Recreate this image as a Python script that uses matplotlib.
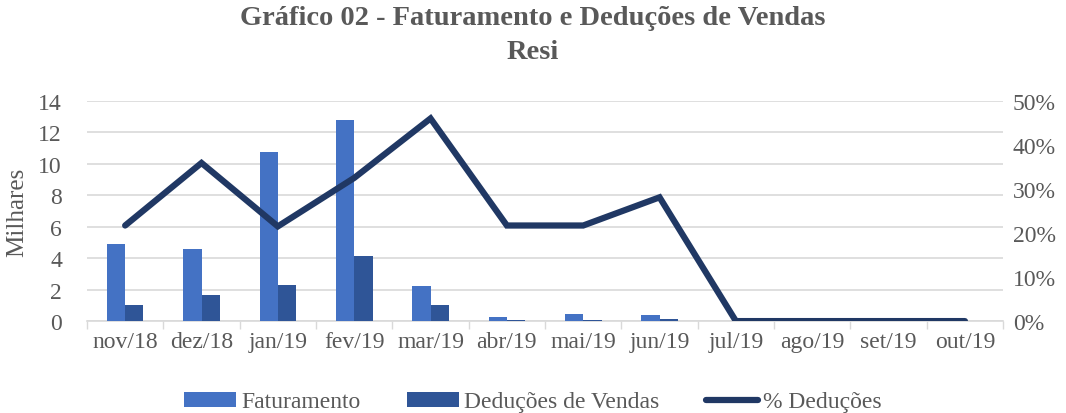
import matplotlib
matplotlib.use("Agg")
import matplotlib.pyplot as plt
import numpy as np
from matplotlib.ticker import MultipleLocator, FixedLocator, PercentFormatter

categories = ["nov/18", "dez/18", "jan/19", "fev/19", "mar/19", "abr/19",
              "mai/19", "jun/19", "jul/19", "ago/19", "set/19", "out/19"]
faturamento = [4.90, 4.58, 10.76, 12.78, 2.21, 0.28, 0.43, 0.38, 0, 0, 0, 0]
deducoes = [1.04, 1.65, 2.31, 4.16, 1.02, 0.06, 0.09, 0.11, 0, 0, 0, 0]
pct_deducoes = [0.217, 0.359, 0.215, 0.325, 0.46, 0.217, 0.217, 0.281, 0, 0, 0, 0]

plt.rcParams['font.family'] = ['Liberation Serif', 'DejaVu Serif']
gray = "#595959"
fs = 17

fig = plt.figure(figsize=(10.66, 4.14), dpi=100)
ax = fig.add_axes([0.0816, 0.222, 0.8594, 0.532])
ax2 = ax.twinx()

x = np.arange(len(categories))
w = 0.24
ax.bar(x - w/2, faturamento, w, color="#4472C4", label="Faturamento", zorder=3)
ax.bar(x + w/2, deducoes, w, color="#2F5597", label="Deduções de Vendas", zorder=3)
ax2.plot(x, pct_deducoes, color="#203864", lw=4.5, solid_capstyle="round",
         solid_joinstyle="miter", label="% Deduções", zorder=4)

ax.set_xlim(-0.5, len(categories) - 0.5)
ax.set_ylim(0, 14)
ax2.set_ylim(0, 0.5)
ax.yaxis.set_major_locator(MultipleLocator(2))
ax2.yaxis.set_major_locator(MultipleLocator(0.1))
ax2.yaxis.set_major_formatter(PercentFormatter(1.0, decimals=0))

ax.set_xticks(x)
ax.set_xticklabels(categories)
ax.xaxis.set_minor_locator(FixedLocator(np.arange(-0.5, len(categories), 1.0)))
ax.tick_params(axis="x", which="major", length=0, pad=7, labelsize=fs, labelcolor=gray)
ax.tick_params(axis="x", which="minor", length=6, color="#D9D9D9", width=1)
ax.tick_params(axis="y", length=0, labelsize=fs, labelcolor=gray, pad=18)
ax2.tick_params(axis="y", length=0, labelsize=fs, labelcolor=gray, pad=7)

ax.grid(axis="y", color="#D9D9D9", lw=1.2, zorder=0)
ax.set_axisbelow(True)
for a in (ax, ax2):
    for s in ("top", "left", "right", "bottom"):
        a.spines[s].set_visible(False)
ax.spines["bottom"].set_visible(True)
ax.spines["bottom"].set_color("#D9D9D9")
ax.spines["bottom"].set_linewidth(1.2)

ax.set_ylabel("Milhares", fontsize=18, color=gray, labelpad=7)

fig.suptitle("Gráfico 02 - Faturamento e Deduções de Vendas\nResi", fontsize=20.5,
             fontweight="bold", color=gray, y=0.985, linespacing=1.45)

h1, l1 = ax.get_legend_handles_labels()
h2, l2 = ax2.get_legend_handles_labels()
fig.legend(h1 + h2, l1 + l2, loc="lower center", ncol=3, frameon=False,
           bbox_to_anchor=(0.5, -0.05), fontsize=fs, labelcolor=gray,
           handlelength=2.2, handleheight=0.6, handletextpad=0.2, columnspacing=2.0)

fig.savefig("out.png", dpi=100)
